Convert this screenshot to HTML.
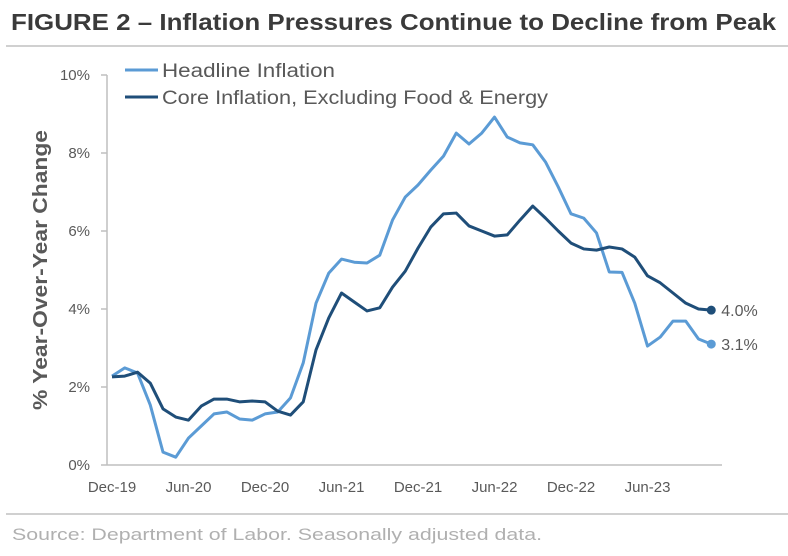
<!DOCTYPE html>
<html><head><meta charset="utf-8"><style>
body{margin:0;background:#fff}
svg{display:block;font-family:"Liberation Sans",sans-serif}
</style></head><body>
<svg id="chart" width="788" height="556">
<text x="11" y="30" font-size="23" font-weight="bold" fill="#3a3a3a" textLength="765" lengthAdjust="spacingAndGlyphs">FIGURE 2 – Inflation Pressures Continue to Decline from Peak</text>
<line x1="6" y1="46" x2="788" y2="46" stroke="#c0c0c0" stroke-width="1.5"/>
<line x1="6" y1="514" x2="788" y2="514" stroke="#c0c0c0" stroke-width="1.5"/>
<text x="12" y="540" font-size="17" fill="#b0b0b0" textLength="530" lengthAdjust="spacingAndGlyphs">Source: Department of Labor. Seasonally adjusted data.</text>
<text transform="translate(47,270) rotate(-90)" text-anchor="middle" font-size="20" font-weight="bold" fill="#595959" textLength="280" lengthAdjust="spacingAndGlyphs">% Year-Over-Year Change</text>
<g id="axes"></g>
<g id="series"></g>
<g>
<line x1="125" y1="70" x2="158" y2="70" stroke="#5b9bd5" stroke-width="3"/>
<text x="162" y="77" font-size="19" fill="#595959" textLength="173" lengthAdjust="spacingAndGlyphs">Headline Inflation</text>
<line x1="125" y1="97" x2="158" y2="97" stroke="#1f4e79" stroke-width="3"/>
<text x="162" y="104" font-size="19" fill="#595959" textLength="386" lengthAdjust="spacingAndGlyphs">Core Inflation, Excluding Food &amp; Energy</text>
</g>
</svg>
<script>
const yTicks=[0,2,4,6,8,10];
const xTickLabels=["Dec-19","Jun-20","Dec-20","Jun-21","Dec-21","Jun-22","Dec-22","Jun-23"];
const xTickIdx=[0,6,12,18,24,30,36,42];
const headline=[2.28,2.49,2.36,1.54,0.33,0.2,0.69,1.0,1.31,1.36,1.18,1.15,1.31,1.36,1.72,2.62,4.15,4.92,5.28,5.2,5.18,5.38,6.28,6.87,7.18,7.56,7.92,8.51,8.23,8.51,8.92,8.41,8.26,8.21,7.77,7.13,6.44,6.33,5.95,4.95,4.94,4.15,3.05,3.28,3.69,3.69,3.23,3.1];
const core=[2.26,2.28,2.38,2.1,1.44,1.23,1.15,1.51,1.69,1.69,1.62,1.64,1.62,1.38,1.28,1.62,2.95,3.77,4.41,4.18,3.95,4.03,4.56,4.97,5.56,6.1,6.44,6.46,6.13,6.0,5.87,5.9,6.28,6.64,6.33,6.0,5.69,5.54,5.51,5.59,5.54,5.33,4.85,4.67,4.41,4.15,4.0,3.97];
const endLabels=["3.1%","4.0%"];
const NS="http://www.w3.org/2000/svg";
const X=i=>112+i*12.75;
const Y=v=>465-v*39;
function mk(t,a,p){const e=document.createElementNS(NS,t);for(const k in a)e.setAttribute(k,a[k]);p.appendChild(e);return e;}
const ax=document.getElementById('axes');
const yl=mk('line',{x1:107,y1:Y(10),x2:107,y2:Y(0),stroke:'#bfbfbf','stroke-width':1.5},ax);


const xl=mk('line',{x1:107,y1:Y(0),x2:722,y2:Y(0),stroke:'#bfbfbf','stroke-width':1.5},ax);


yTicks.forEach(v=>{
 const tk=mk('line',{x1:101,y1:Y(v),x2:107,y2:Y(v),stroke:'#bfbfbf','stroke-width':1.5},ax);
 
 
 const t=mk('text',{x:90,y:Y(v)+5,'text-anchor':'end','font-size':15,fill:'#595959'},ax);
 t.textContent=v+'%';
 
 
});
xTickLabels.forEach((l,k)=>{
 const t=mk('text',{x:X(xTickIdx[k]),y:492,'text-anchor':'middle','font-size':15,fill:'#595959'},ax);
 t.textContent=l;
 
 
});
const sg=document.getElementById('series');
[[headline,'#5b9bd5','headline-line',endLabels[0]],[core,'#1f4e79','core-line',endLabels[1]]].forEach(([d,c,n,lab])=>{
 const p=mk('polyline',{points:d.map((v,i)=>X(i)+','+Y(v)).join(' '),fill:'none',stroke:c,'stroke-width':3,'stroke-linejoin':'round'},sg);
 
 
 const li=d.length-1;
 const dot=mk('circle',{cx:X(li),cy:Y(d[li]),r:4.5,fill:c},sg);
 
 
 const t=mk('text',{x:X(li)+10,y:Y(d[li])+6,'font-size':16,fill:'#595959'},sg);
 t.textContent=lab;
 
 
});
</script>
</body></html>
